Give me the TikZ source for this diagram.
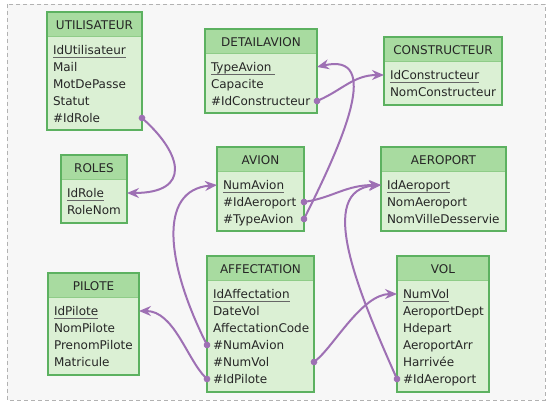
\documentclass[tikz,border=0pt]{standalone}
\usepackage{fontspec}
\setmainfont{DejaVu Sans}
\usepackage{xcolor}
\usetikzlibrary{positioning, arrows.meta}

\definecolor{mcdborder}{HTML}{5CB160}
\definecolor{mcdhead}{HTML}{A8DBA0}
\definecolor{mcdbody}{HTML}{DBF0D4}
\definecolor{mcdsep}{HTML}{8FCC88}
\definecolor{mcdlink}{HTML}{9E70B4}
\definecolor{mcdbg}{HTML}{F7F7F7}

\begin{document}
\begin{tikzpicture}[x=1pt, y=-1pt,
  every node/.style={font=\fontsize{12}{14}\selectfont, text=black!85, inner sep=0pt, outer sep=0pt},
  head/.style={fill=mcdhead, draw=mcdsep, line width=1pt, minimum height=25pt, text height=11pt, text depth=0pt},
  body/.style={fill=mcdbody, anchor=north},
  frame/.style={draw=mcdborder, line width=2pt},
  attr/.style={anchor=west, text height=10pt, text depth=0pt},
  keyline/.style={draw=black!60, line width=1.6pt},
  link/.style={draw=mcdlink, line width=2pt, {Circle[length=6.5pt]}-{Stealth[length=12pt, width=10pt, inset=4pt]}, shorten <=-3.25pt}]

% Canvas
\useasboundingbox (0,0) rectangle (550,406);
\draw[draw=black!30, fill=mcdbg, dash pattern=on 4pt off 3pt] (7,4) rectangle (545,400);

% Top row: UTILISATEUR, DETAILAVION, CONSTRUCTEUR
\node[body, minimum width=95pt, minimum height=93pt] (utilisateur_body) at (94.5,37) {};
\node[head, minimum width=95pt, above=0pt of utilisateur_body] (utilisateur) {UTILISATEUR};
\draw[frame] (utilisateur.north west) rectangle (utilisateur_body.south east);
\node[attr] (utilisateur_id) at (53,50) {IdUtilisateur};
\node[attr] (utilisateur_mail) at (53,67) {Mail};
\node[attr] (utilisateur_mdp) at (53,84) {MotDePasse};
\node[attr] (utilisateur_statut) at (53,101) {Statut};
\node[attr] (utilisateur_idrole) at (53,118) {\#IdRole};
\draw[keyline] ([yshift=-2.5pt]utilisateur_id.south west) -- ([yshift=-2.5pt]utilisateur_id.south east);

\node[body, minimum width=112pt, minimum height=59pt] (detailavion_body) at (261,54) {};
\node[head, minimum width=112pt, above=0pt of detailavion_body] (detailavion) {DETAILAVION};
\draw[frame] (detailavion.north west) rectangle (detailavion_body.south east);
\node[attr] (detailavion_type) at (211,67) {TypeAvion};
\node[attr] (detailavion_capacite) at (211,84) {Capacite};
\node[attr] (detailavion_idconst) at (211,101) {\#IdConstructeur};
\draw[keyline] ([yshift=-2.5pt]detailavion_type.south west) -- ([yshift=-2.5pt,xshift=4pt]detailavion_type.south east);

\node[body, minimum width=118pt, minimum height=43pt] (constructeur_body) at (443,62) {};
\node[head, minimum width=118pt, above=0pt of constructeur_body] (constructeur) {CONSTRUCTEUR};
\draw[frame] (constructeur.north west) rectangle (constructeur_body.south east);
\node[attr] (constructeur_id) at (390,75) {IdConstructeur};
\node[attr] (constructeur_nom) at (390,92) {NomConstructeur};
\draw[keyline] ([yshift=-2.5pt]constructeur_id.south west) -- ([yshift=-2.5pt]constructeur_id.south east);

% Middle row: ROLES, AVION, AEROPORT
\node[body, minimum width=66pt, minimum height=43pt] (roles_body) at (94,180) {};
\node[head, minimum width=66pt, above=0pt of roles_body] (roles) {ROLES};
\draw[frame] (roles.north west) rectangle (roles_body.south east);
\node[attr] (roles_id) at (67,193) {IdRole};
\node[attr] (roles_nom) at (67,210) {RoleNom};
\draw[keyline] ([yshift=-2.5pt]roles_id.south west) -- ([yshift=-2.5pt]roles_id.south east);

\node[body, minimum width=87pt, minimum height=59pt] (avion_body) at (260.5,172) {};
\node[head, minimum width=87pt, above=0pt of avion_body] (avion) {AVION};
\draw[frame] (avion.north west) rectangle (avion_body.south east);
\node[attr] (avion_num) at (223,185) {NumAvion};
\node[attr] (avion_idaeroport) at (223,202) {\#IdAeroport};
\node[attr] (avion_type) at (223,219) {\#TypeAvion};
\draw[keyline] ([yshift=-2.5pt]avion_num.south west) -- ([yshift=-2.5pt]avion_num.south east);

\node[body, minimum width=125pt, minimum height=59pt] (aeroport_body) at (443.5,172) {};
\node[head, minimum width=125pt, above=0pt of aeroport_body] (aeroport) {AEROPORT};
\draw[frame] (aeroport.north west) rectangle (aeroport_body.south east);
\node[attr] (aeroport_id) at (387,185) {IdAeroport};
\node[attr] (aeroport_nom) at (387,202) {NomAeroport};
\node[attr] (aeroport_ville) at (387,219) {NomVilleDesservie};
\draw[keyline] ([yshift=-2.5pt]aeroport_id.south west) -- ([yshift=-2.5pt]aeroport_id.south east);

% Bottom row: PILOTE, AFFECTATION, VOL
\node[body, minimum width=91pt, minimum height=77pt] (pilote_body) at (93.5,298) {};
\node[head, minimum width=91pt, above=0pt of pilote_body] (pilote) {PILOTE};
\draw[frame] (pilote.north west) rectangle (pilote_body.south east);
\node[attr] (pilote_id) at (54,311) {IdPilote};
\node[attr] (pilote_nom) at (54,328) {NomPilote};
\node[attr] (pilote_prenom) at (54,345) {PrenomPilote};
\node[attr] (pilote_matricule) at (54,362) {Matricule};
\draw[keyline] ([yshift=-2.5pt]pilote_id.south west) -- ([yshift=-2.5pt]pilote_id.south east);

\node[body, minimum width=107pt, minimum height=111pt] (affectation_body) at (260.5,281) {};
\node[head, minimum width=107pt, above=0pt of affectation_body] (affectation) {AFFECTATION};
\draw[frame] (affectation.north west) rectangle (affectation_body.south east);
\node[attr] (affectation_id) at (213,294) {IdAffectation};
\node[attr] (affectation_date) at (213,311) {DateVol};
\node[attr] (affectation_code) at (213,328) {AffectationCode};
\node[attr] (affectation_numavion) at (213,345) {\#NumAvion};
\node[attr] (affectation_numvol) at (213,362) {\#NumVol};
\node[attr] (affectation_idpilote) at (213,379) {\#IdPilote};
\draw[keyline] ([yshift=-2.5pt]affectation_id.south west) -- ([yshift=-2.5pt]affectation_id.south east);

\node[body, minimum width=92pt, minimum height=111pt] (vol_body) at (443,281) {};
\node[head, minimum width=92pt, above=0pt of vol_body] (vol) {VOL};
\draw[frame] (vol.north west) rectangle (vol_body.south east);
\node[attr] (vol_num) at (403,294) {NumVol};
\node[attr] (vol_dept) at (403,311) {AeroportDept};
\node[attr] (vol_hdepart) at (403,328) {Hdepart};
\node[attr] (vol_arr) at (403,345) {AeroportArr};
\node[attr] (vol_harrivee) at (403,362) {Harrivée};
\node[attr] (vol_idaeroport) at (403,379) {\#IdAeroport};
\draw[keyline] ([yshift=-2.5pt]vol_num.south west) -- ([yshift=-2.5pt]vol_num.south east);

% Foreign keys -> primary keys
\draw[link] (utilisateur_body.east |- utilisateur_idrole) .. controls +(40,36) and +(65,0) .. (roles_body.east |- roles_id);
\draw[link] (detailavion_body.east |- detailavion_idconst) .. controls +(25,-11) and +(-30,0) .. (constructeur_body.west |- constructeur_id);
\draw[link] (avion_body.east |- avion_type) .. controls +(40,-80) and +(65,-15) .. (detailavion_body.east |- detailavion_type);
\draw[link] (avion_body.east |- avion_idaeroport) .. controls +(30,-5) and +(-35,0) .. (aeroport_body.west |- aeroport_id);
\draw[link] (affectation_body.west |- affectation_numavion) .. controls +(-40,-80) and +(-60,5) .. (avion_body.west |- avion_num);
\draw[link] (affectation_body.west |- affectation_idpilote) .. controls +(-20,-20) and +(35,0) .. (pilote_body.east |- pilote_id);
\draw[link] (affectation_body.east |- affectation_numvol) .. controls +(20,-16) and +(-35,0) .. (vol_body.west |- vol_num);
\draw[link] (vol_body.west |- vol_idaeroport) .. controls +(-40,-90) and +(-65,5) .. (aeroport_body.west |- aeroport_id);

\end{tikzpicture}
\end{document}
